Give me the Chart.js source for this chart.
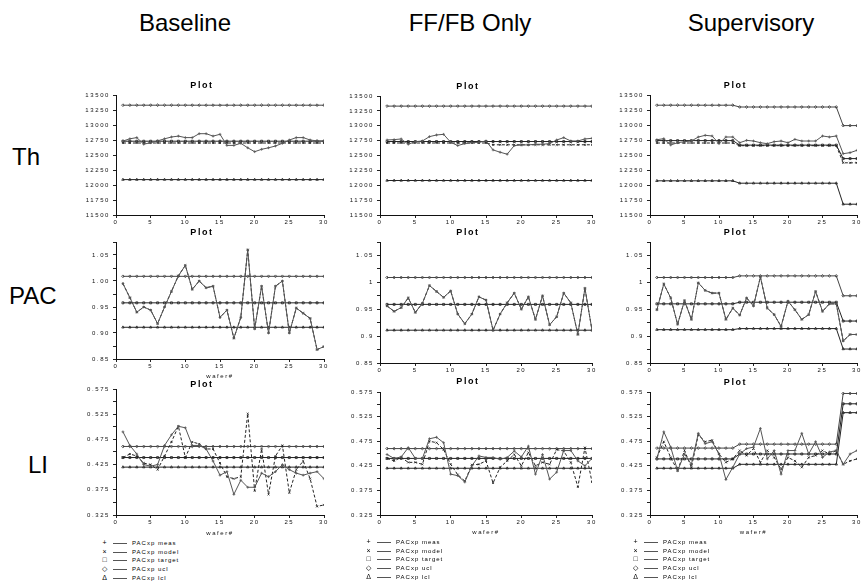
<!DOCTYPE html>
<html>
<head>
<meta charset="utf-8">
<script src="https://cdn.jsdelivr.net/npm/chart.js@4/dist/chart.umd.min.js"></script>
<style>
  body { margin: 0; background: #fff; width: 863px; height: 585px; position: relative; overflow: hidden; font-family: Arial, "Liberation Sans", sans-serif; }
  .hdr { position: absolute; font-size: 24px; color: #000; white-space: nowrap; transform: translate(-50%, -50%); }
  .row { position: absolute; font-size: 24px; color: #000; transform: translateY(-50%); }
  canvas.panel { position: absolute; }
  .lg { position: absolute; font-size: 6px; letter-spacing: 1px; color: #000; -webkit-font-smoothing: antialiased; }
  .lg div { height: 8.7px; line-height: 8.7px; white-space: nowrap; }
  .lg .sym { display: inline-block; width: 10px; font-size: 7px; text-align: center; }
  .lg .ln { display: inline-block; width: 14px; height: 0; border-top: 1px solid #555; margin: 0 5px 0 3px; vertical-align: middle; }
</style>
</head>
<body>
<div class="hdr" style="left:185px;top:23px">Baseline</div>
<div class="hdr" style="left:470px;top:23px">FF/FB Only</div>
<div class="hdr" style="left:751px;top:23px">Supervisory</div>
<div class="row" style="left:12px;top:157px">Th</div>
<div class="row" style="left:9px;top:296px">PAC</div>
<div class="row" style="left:28px;top:465px">LI</div>

<script>
// x values (wafer number)
const waferNums = [1,2,3,4,5,6,7,8,9,10,11,12,13,14,15,16,17,18,19,20,21,22,23,24,25,26,27,28,29,30];
const xTicks = [0,5,10,15,20,25,30];
const xLabels = ["0","5","10","15","20","25","30"];

// y ticks
const thTicks = [11500,11750,12000,12250,12500,12750,13000,13250,13500];
const thLabels = ["11500","11750","12000","12250","12500","12750","13000","13250","13500"];
const pacTicks = [0.85,0.875,0.9,0.925,0.95,0.975,1.0,1.025,1.05,1.075];
const pacLabelsBase = ["0.85","","0.90","","0.95","","1.00","","1.05",""];
const pacLabelsCtl = ["0.85","","0.9","","0.95","","1","","1.05",""];
const liTicks = [0.325,0.35,0.375,0.4,0.425,0.45,0.475,0.5,0.525,0.55,0.575];
const liLabels = ["0.325","","0.375","","0.425","","0.475","","0.525","","0.575"];

// legend
const legendLabels = ["PACxp meas","PACxp model","PACxp target","PACxp ucl","PACxp lcl"];
const legendSymbols = ["+","\u00d7","\u25a1","\u25c7","\u0394"];

// Th - Baseline
const thBaseMeas   = [12733,12770,12790,12680,12705,12735,12770,12800,12815,12790,12790,12855,12855,12815,12845,12660,12660,12695,12620,12555,12595,12620,12650,12695,12750,12790,12790,12750,12735,12735];
const thBaseModel  = [12700,12700,12700,12700,12700,12700,12700,12700,12700,12700,12700,12700,12700,12700,12700,12700,12700,12700,12700,12700,12700,12700,12700,12700,12700,12700,12700,12700,12700,12700];
const thBaseTarget = [12730,12730,12730,12730,12730,12730,12730,12730,12730,12730,12730,12730,12730,12730,12730,12730,12730,12730,12730,12730,12730,12730,12730,12730,12730,12730,12730,12730,12730,12730];
const thBaseUcl    = [13330,13330,13330,13330,13330,13330,13330,13330,13330,13330,13330,13330,13330,13330,13330,13330,13330,13330,13330,13330,13330,13330,13330,13330,13330,13330,13330,13330,13330,13330];
const thBaseLcl    = [12090,12090,12090,12090,12090,12090,12090,12090,12090,12090,12090,12090,12090,12090,12090,12090,12090,12090,12090,12090,12090,12090,12090,12090,12090,12090,12090,12090,12090,12090];

// Th - FF/FB only
const thFfMeas   = [12761,12767,12778,12689,12733,12744,12817,12845,12856,12722,12667,12700,12717,12722,12744,12594,12555,12522,12667,12678,12678,12689,12689,12700,12761,12800,12744,12744,12778,12789];
const thFfModel  = [12710,12710,12710,12710,12710,12710,12710,12710,12710,12710,12710,12710,12710,12710,12710,12680,12680,12680,12680,12680,12680,12680,12680,12680,12680,12680,12680,12680,12680,12680];
const thFfTarget = [12735,12735,12735,12735,12735,12735,12735,12735,12735,12735,12735,12735,12735,12735,12735,12735,12735,12735,12735,12735,12735,12735,12735,12735,12735,12735,12735,12735,12735,12735];
const thFfUcl    = [13330,13330,13330,13330,13330,13330,13330,13330,13330,13330,13330,13330,13330,13330,13330,13330,13330,13330,13330,13330,13330,13330,13330,13330,13330,13330,13330,13330,13330,13330];
const thFfLcl    = [12080,12080,12080,12080,12080,12080,12080,12080,12080,12080,12080,12080,12080,12080,12080,12080,12080,12080,12080,12080,12080,12080,12080,12080,12080,12080,12080,12080,12080,12080];

// Th - Supervisory
const thSupMeas   = [12755,12772,12667,12705,12722,12733,12800,12828,12817,12689,12800,12800,12705,12744,12733,12705,12689,12722,12733,12705,12761,12733,12733,12733,12817,12800,12817,12522,12539,12578];
const thSupModel  = [12700,12700,12700,12700,12700,12700,12700,12700,12700,12700,12700,12700,12655,12655,12655,12655,12655,12655,12655,12655,12655,12655,12655,12655,12655,12655,12655,12370,12370,12370];
const thSupTarget = [12740,12740,12740,12740,12740,12740,12740,12740,12740,12740,12740,12740,12665,12665,12665,12665,12665,12665,12665,12665,12665,12665,12665,12665,12665,12665,12665,12440,12440,12440];
const thSupUcl    = [13330,13330,13330,13330,13330,13330,13330,13330,13330,13330,13330,13330,13300,13300,13300,13300,13300,13300,13300,13300,13300,13300,13300,13300,13300,13300,13300,12990,12990,12990];
const thSupLcl    = [12070,12070,12070,12070,12070,12070,12070,12070,12070,12070,12070,12070,12030,12030,12030,12030,12030,12030,12030,12030,12030,12030,12030,12030,12030,12030,12030,11680,11680,11680];

// PAC - Baseline
const pacBaseMeas   = [0.995,0.968,0.94,0.95,0.944,0.918,0.95,0.98,1.01,1.03,0.984,1.0,0.987,0.99,0.93,0.944,0.89,0.93,1.06,0.908,0.99,0.90,0.99,1.0,0.90,0.948,0.938,0.928,0.868,0.874];
const pacBaseModel  = [0.995,0.968,0.94,0.95,0.944,0.918,0.95,0.98,1.01,1.03,0.984,1.0,0.987,0.99,0.93,0.944,0.89,0.93,1.06,0.908,0.99,0.90,0.99,1.0,0.90,0.948,0.938,0.928,0.868,0.874];
const pacBaseTarget = [0.958,0.958,0.958,0.958,0.958,0.958,0.958,0.958,0.958,0.958,0.958,0.958,0.958,0.958,0.958,0.958,0.958,0.958,0.958,0.958,0.958,0.958,0.958,0.958,0.958,0.958,0.958,0.958,0.958,0.958];
const pacBaseUcl    = [1.009,1.009,1.009,1.009,1.009,1.009,1.009,1.009,1.009,1.009,1.009,1.009,1.009,1.009,1.009,1.009,1.009,1.009,1.009,1.009,1.009,1.009,1.009,1.009,1.009,1.009,1.009,1.009,1.009,1.009];
const pacBaseLcl    = [0.911,0.911,0.911,0.911,0.911,0.911,0.911,0.911,0.911,0.911,0.911,0.911,0.911,0.911,0.911,0.911,0.911,0.911,0.911,0.911,0.911,0.911,0.911,0.911,0.911,0.911,0.911,0.911,0.911,0.911];

// PAC - FF/FB only
const pacFfMeas   = [0.956,0.946,0.953,0.971,0.944,0.961,0.994,0.983,0.972,0.984,0.941,0.923,0.941,0.973,0.967,0.911,0.941,0.962,0.980,0.950,0.973,0.931,0.975,0.921,0.936,0.980,0.962,0.903,0.989,0.911];
const pacFfModel  = [0.956,0.946,0.953,0.971,0.944,0.961,0.994,0.983,0.972,0.984,0.941,0.923,0.941,0.973,0.967,0.911,0.941,0.962,0.980,0.950,0.973,0.931,0.975,0.921,0.936,0.980,0.962,0.903,0.989,0.911];
const pacFfTarget = [0.959,0.959,0.959,0.959,0.959,0.959,0.959,0.959,0.959,0.959,0.959,0.959,0.959,0.959,0.959,0.959,0.959,0.959,0.959,0.959,0.959,0.959,0.959,0.959,0.959,0.959,0.959,0.959,0.959,0.959];
const pacFfUcl    = [1.009,1.009,1.009,1.009,1.009,1.009,1.009,1.009,1.009,1.009,1.009,1.009,1.009,1.009,1.009,1.009,1.009,1.009,1.009,1.009,1.009,1.009,1.009,1.009,1.009,1.009,1.009,1.009,1.009,1.009];
const pacFfLcl    = [0.911,0.911,0.911,0.911,0.911,0.911,0.911,0.911,0.911,0.911,0.911,0.911,0.911,0.911,0.911,0.911,0.911,0.911,0.911,0.911,0.911,0.911,0.911,0.911,0.911,0.911,0.911,0.911,0.911,0.911];

// PAC - Supervisory
const pacSupMeas   = [0.949,0.997,0.971,0.922,0.966,0.931,0.999,0.985,0.980,0.980,0.931,0.952,0.939,0.971,0.956,1.010,0.952,0.940,0.918,0.965,0.949,0.931,0.940,0.983,0.946,0.960,0.960,0.891,0.903,0.903];
const pacSupModel  = [0.949,0.997,0.971,0.922,0.966,0.931,0.999,0.985,0.980,0.980,0.931,0.952,0.939,0.971,0.956,1.010,0.952,0.940,0.918,0.965,0.949,0.931,0.940,0.983,0.946,0.960,0.960,0.891,0.903,0.903];
const pacSupTarget = [0.960,0.960,0.960,0.960,0.960,0.960,0.960,0.960,0.960,0.960,0.960,0.960,0.963,0.963,0.963,0.963,0.963,0.963,0.963,0.963,0.963,0.963,0.963,0.963,0.963,0.963,0.963,0.928,0.928,0.928];
const pacSupUcl    = [1.009,1.009,1.009,1.009,1.009,1.009,1.009,1.009,1.009,1.009,1.009,1.009,1.012,1.012,1.012,1.012,1.012,1.012,1.012,1.012,1.012,1.012,1.012,1.012,1.012,1.012,1.012,0.975,0.975,0.975];
const pacSupLcl    = [0.912,0.912,0.912,0.912,0.912,0.912,0.912,0.912,0.912,0.912,0.912,0.912,0.914,0.914,0.914,0.914,0.914,0.914,0.914,0.914,0.914,0.914,0.914,0.914,0.914,0.914,0.914,0.876,0.876,0.876];

// LI - Baseline
const liBaseMeas   = [0.490,0.463,0.446,0.425,0.422,0.425,0.463,0.484,0.501,0.498,0.463,0.463,0.456,0.432,0.404,0.411,0.366,0.394,0.380,0.380,0.408,0.401,0.411,0.425,0.415,0.408,0.404,0.408,0.411,0.397];
const liBaseModel  = [0.439,0.446,0.442,0.428,0.425,0.415,0.442,0.470,0.501,0.439,0.470,0.466,0.456,0.456,0.428,0.401,0.397,0.401,0.526,0.373,0.456,0.366,0.442,0.463,0.369,0.415,0.432,0.397,0.342,0.345];
const liBaseTarget = [0.439,0.439,0.439,0.439,0.439,0.439,0.439,0.439,0.439,0.439,0.439,0.439,0.439,0.439,0.439,0.439,0.439,0.439,0.439,0.439,0.439,0.439,0.439,0.439,0.439,0.439,0.439,0.439,0.439,0.439];
const liBaseUcl    = [0.461,0.461,0.461,0.461,0.461,0.461,0.461,0.461,0.461,0.461,0.461,0.461,0.461,0.461,0.461,0.461,0.461,0.461,0.461,0.461,0.461,0.461,0.461,0.461,0.461,0.461,0.461,0.461,0.461,0.461];
const liBaseLcl    = [0.420,0.420,0.420,0.420,0.420,0.420,0.420,0.420,0.420,0.420,0.420,0.420,0.420,0.420,0.420,0.420,0.420,0.420,0.420,0.420,0.420,0.420,0.420,0.420,0.420,0.420,0.420,0.420,0.420,0.420];

// LI - FF/FB only
const liFfMeas   = [0.448,0.440,0.443,0.462,0.440,0.440,0.480,0.483,0.472,0.408,0.405,0.392,0.425,0.445,0.442,0.442,0.438,0.442,0.455,0.443,0.465,0.408,0.448,0.398,0.412,0.456,0.456,0.435,0.425,0.440];
const liFfModel  = [0.440,0.435,0.442,0.432,0.432,0.428,0.475,0.472,0.458,0.428,0.407,0.394,0.427,0.428,0.435,0.390,0.422,0.435,0.448,0.425,0.452,0.425,0.432,0.428,0.458,0.455,0.432,0.382,0.462,0.392];
const liFfTarget = [0.440,0.440,0.440,0.440,0.440,0.440,0.440,0.440,0.440,0.440,0.440,0.440,0.440,0.440,0.440,0.440,0.440,0.440,0.440,0.440,0.440,0.440,0.440,0.440,0.440,0.440,0.440,0.440,0.440,0.440];
const liFfUcl    = [0.460,0.460,0.460,0.460,0.460,0.460,0.460,0.460,0.460,0.460,0.460,0.460,0.460,0.460,0.460,0.460,0.460,0.460,0.460,0.460,0.460,0.460,0.460,0.460,0.460,0.460,0.460,0.460,0.460,0.460];
const liFfLcl    = [0.420,0.420,0.420,0.420,0.420,0.420,0.420,0.420,0.420,0.420,0.420,0.420,0.420,0.420,0.420,0.420,0.420,0.420,0.420,0.420,0.420,0.420,0.420,0.420,0.420,0.420,0.420,0.420,0.420,0.420];

// LI - Supervisory
const liSupMeas   = [0.439,0.494,0.463,0.415,0.449,0.428,0.491,0.470,0.474,0.449,0.397,0.422,0.449,0.460,0.463,0.501,0.439,0.456,0.408,0.456,0.456,0.491,0.449,0.474,0.442,0.453,0.456,0.428,0.449,0.456];
const liSupModel  = [0.442,0.474,0.442,0.415,0.456,0.422,0.488,0.474,0.477,0.449,0.432,0.439,0.456,0.446,0.460,0.432,0.456,0.442,0.418,0.442,0.435,0.422,0.442,0.446,0.456,0.449,0.456,0.428,0.435,0.439];
const liSupTarget = [0.439,0.439,0.439,0.439,0.439,0.439,0.439,0.439,0.439,0.439,0.439,0.439,0.449,0.449,0.449,0.449,0.449,0.449,0.449,0.449,0.449,0.449,0.449,0.449,0.449,0.449,0.449,0.551,0.551,0.551];
const liSupUcl    = [0.461,0.461,0.461,0.461,0.461,0.461,0.461,0.461,0.461,0.461,0.461,0.461,0.469,0.469,0.469,0.469,0.469,0.469,0.469,0.469,0.469,0.469,0.469,0.469,0.469,0.469,0.469,0.572,0.572,0.572];
const liSupLcl    = [0.420,0.420,0.420,0.420,0.420,0.420,0.420,0.420,0.420,0.420,0.420,0.420,0.428,0.428,0.428,0.428,0.428,0.428,0.428,0.428,0.428,0.428,0.428,0.428,0.428,0.428,0.428,0.533,0.533,0.533];

const Y_W = 36;
const PAD_R = 6;

// spread out small text like the original printout
const spacing = {
  id: "spacing",
  beforeLayout(chart) { chart.ctx.letterSpacing = "1.6px"; },
  beforeDraw(chart) { chart.ctx.letterSpacing = "1.6px"; }
};

function pts(vals) {
  return vals.map((v, i) => ({ x: waferNums[i], y: v }));
}

function makeDatasets(meas, model, target, ucl, lcl) {
  const base = { borderWidth: 1, pointRadius: 1.4, pointBorderWidth: 0.8, fill: false, tension: 0 };
  return [
    { ...base, label: legendLabels[0], data: pts(meas), borderColor: "#555", pointBorderColor: "#555", pointStyle: "cross" },
    { ...base, label: legendLabels[1], data: pts(model), borderColor: "#222", pointBorderColor: "#222", pointStyle: "crossRot", borderDash: [3, 2] },
    { ...base, label: legendLabels[2], data: pts(target), borderColor: "#222", pointBorderColor: "#222", pointStyle: "rect" },
    { ...base, label: legendLabels[3], data: pts(ucl), borderColor: "#444", pointBorderColor: "#444", pointStyle: "rectRot" },
    { ...base, label: legendLabels[4], data: pts(lcl), borderColor: "#222", pointBorderColor: "#222", pointStyle: "triangle" }
  ];
}

function makePanel(p) {
  const titleBox = p.gap + 6;
  const xH = p.xTitle ? Math.round(p.xTitleY - p.bottom + 3.6) : 14;
  const canvas = document.createElement("canvas");
  canvas.className = "panel";
  const w = Y_W + (p.right - p.left) + PAD_R;
  const h = titleBox + (p.bottom - p.top) + xH + 2;
  canvas.width = w;
  canvas.height = h;
  canvas.style.left = (p.left - Y_W) + "px";
  canvas.style.top = (p.top - titleBox) + "px";
  document.body.appendChild(canvas);

  new Chart(canvas.getContext("2d"), {
    type: "line",
    data: { datasets: p.datasets },
    plugins: [spacing],
    options: {
      responsive: false,
      animation: false,
      layout: { padding: { left: 0, right: PAD_R, top: 0, bottom: 2 } },
      plugins: {
        legend: { display: false },
        tooltip: { enabled: false },
        title: {
          display: true,
          text: "Plot",
          color: "#000",
          font: { family: "Arial", size: 9, weight: "bold", lineHeight: 1 },
          padding: { top: 1, bottom: p.gap - 5 }
        }
      },
      scales: {
        x: {
          type: "linear",
          min: 0,
          max: 30,
          afterBuildTicks: s => { s.ticks = xTicks.map(v => ({ value: v })); },
          afterFit: s => { s.height = xH; },
          ticks: {
            autoSkip: false,
            maxRotation: 0,
            padding: 1,
            color: "#111",
            font: { family: "Arial", size: 6 },
            callback: (v, i) => xLabels[i]
          },
          grid: { drawOnChartArea: false, tickLength: 3, color: "#222" },
          border: { color: "#111", width: 1 },
          title: {
            display: !!p.xTitle,
            text: "wafer#",
            color: "#111",
            font: { family: "Arial", size: 6, lineHeight: 1.2 },
            padding: 0
          }
        },
        y: {
          type: "linear",
          min: p.yTicks[0],
          max: p.yTicks[p.yTicks.length - 1],
          afterBuildTicks: s => { s.ticks = p.yTicks.map(v => ({ value: v })); },
          afterFit: s => { s.width = Y_W; },
          ticks: {
            autoSkip: false,
            padding: 3,
            color: "#111",
            font: { family: "Arial", size: 6 },
            callback: (v, i) => p.yLabels[i]
          },
          grid: { drawOnChartArea: false, tickLength: 3, color: "#222" },
          border: { color: "#111", width: 1 }
        }
      }
    }
  });
}

const cols = [
  { left: 116, right: 324 },
  { left: 380, right: 592 },
  { left: 650, right: 857 }
];

// Th row
makePanel({ ...cols[0], top: 96, bottom: 215, gap: 10, yTicks: thTicks, yLabels: thLabels,
  datasets: makeDatasets(thBaseMeas, thBaseModel, thBaseTarget, thBaseUcl, thBaseLcl) });
makePanel({ ...cols[1], top: 97, bottom: 215, gap: 10, yTicks: thTicks, yLabels: thLabels,
  datasets: makeDatasets(thFfMeas, thFfModel, thFfTarget, thFfUcl, thFfLcl) });
makePanel({ ...cols[2], top: 96, bottom: 215, gap: 10, yTicks: thTicks, yLabels: thLabels,
  datasets: makeDatasets(thSupMeas, thSupModel, thSupTarget, thSupUcl, thSupLcl) });

// PAC row
makePanel({ ...cols[0], top: 243, bottom: 359, gap: 10, yTicks: pacTicks, yLabels: pacLabelsBase, xTitle: true, xTitleY: 376,
  datasets: makeDatasets(pacBaseMeas, pacBaseModel, pacBaseTarget, pacBaseUcl, pacBaseLcl) });
makePanel({ ...cols[1], top: 243, bottom: 363, gap: 10, yTicks: pacTicks, yLabels: pacLabelsCtl,
  datasets: makeDatasets(pacFfMeas, pacFfModel, pacFfTarget, pacFfUcl, pacFfLcl) });
makePanel({ ...cols[2], top: 243, bottom: 363, gap: 10, yTicks: pacTicks, yLabels: pacLabelsCtl,
  datasets: makeDatasets(pacSupMeas, pacSupModel, pacSupTarget, pacSupUcl, pacSupLcl) });

// LI row
makePanel({ ...cols[0], top: 390, bottom: 515, gap: 5, yTicks: liTicks, yLabels: liLabels, xTitle: true, xTitleY: 533,
  datasets: makeDatasets(liBaseMeas, liBaseModel, liBaseTarget, liBaseUcl, liBaseLcl) });
makePanel({ ...cols[1], top: 393, bottom: 515, gap: 11, yTicks: liTicks, yLabels: liLabels, xTitle: true, xTitleY: 532,
  datasets: makeDatasets(liFfMeas, liFfModel, liFfTarget, liFfUcl, liFfLcl) });
makePanel({ ...cols[2], top: 393, bottom: 515, gap: 10, yTicks: liTicks, yLabels: liLabels, xTitle: true, xTitleY: 532,
  datasets: makeDatasets(liSupMeas, liSupModel, liSupTarget, liSupUcl, liSupLcl) });

// legends under the LI row
[[100, 539], [364, 538], [631, 538]].forEach(([x, y]) => {
  const lg = document.createElement("div");
  lg.className = "lg";
  lg.style.left = x + "px";
  lg.style.top = y + "px";
  legendLabels.forEach((name, i) => {
    const row = document.createElement("div");
    row.innerHTML = `<span class="sym">${legendSymbols[i]}</span><span class="ln"></span>${name}`;
    lg.appendChild(row);
  });
  document.body.appendChild(lg);
});
</script>
</body>
</html>
